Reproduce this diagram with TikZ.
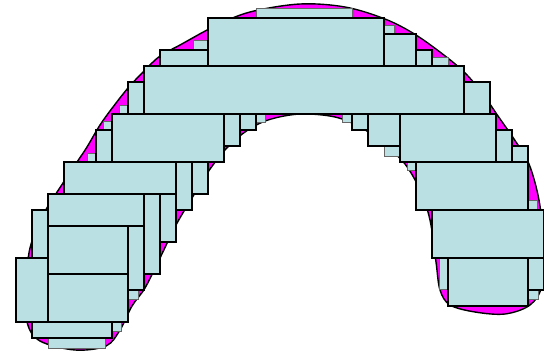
\documentclass[tikz,border=0pt]{standalone}
\usepackage{xcolor}
\usepackage{tikz}
\usetikzlibrary{backgrounds}
\definecolor{tilefill}{RGB}{187,224,227}
\definecolor{blobfill}{RGB}{255,0,255}
\tikzset{
    tile/.style={fill=tilefill, draw=black, line width=1.6pt},
    chip/.style={fill=tilefill, draw=black!60, line width=0.9pt},
    region/.style={fill=blobfill, draw=black, line width=1.4pt}
}

\begin{document}
\begin{tikzpicture}[x=1pt, y=-1pt]
    \useasboundingbox (0,0) rectangle (544,351);
    % the arch
    \draw[region] plot[smooth cycle, tension=0.55] coordinates {
        (40,341) (27,322) (26,285) (30,248) (43,215) (63,183) (77,162)
        (87,147) (100,125) (113,107) (128,88) (144,71) (160,56) (180,45)
        (215,26) (250,12) (300,4) (345,7) (385,19) (416,35) (449,59)
        (468,76) (485,97) (498,116) (514,139) (529,164) (539,200)
        (543,240) (542,285) (530,305) (505,314) (475,312) (450,305)
        (440,290) (436,262) (430,220) (420,190) (405,164) (385,145)
        (362,128) (335,117) (300,114) (268,120) (245,132) (225,150)
        (208,172) (192,198) (176,225) (160,258) (145,288) (132,306)
        (120,330) (106,346) (75,350)};
    % small pieces at the rim
    \draw[chip] (256,8) rectangle (352,18);
    \draw[chip] (384,25) rectangle (394,34);
    \draw[chip] (432,57) rectangle (448,66);
    \draw[chip] (193,40) rectangle (208,50);
    \draw[chip] (119,105) rectangle (128,114);
    \draw[chip] (103,121) rectangle (112,130);
    \draw[chip] (87,153) rectangle (96,162);
    \draw[chip] (256,114) rectangle (265,122);
    \draw[chip] (342,114) rectangle (352,122);
    \draw[chip] (384,146) rectangle (400,156);
    \draw[chip] (407,162) rectangle (416,170);
    \draw[chip] (528,200) rectangle (537,210);
    \draw[chip] (528,290) rectangle (538,299);
    \draw[chip] (439,258) rectangle (448,289);
    \draw[chip] (112,322) rectangle (121,331);
    \draw[chip] (128,290) rectangle (138,299);
    \draw[chip] (48,338) rectangle (105,348);
    % top rows
    \draw[tile] (208,18) rectangle (384,66);
    \draw[tile] (384,34) rectangle (416,66);
    \draw[tile] (416,50) rectangle (432,66);
    \draw[tile] (160,50) rectangle (208,66);
    \draw[tile] (144,66) rectangle (464,114);
    \draw[tile] (128,82) rectangle (144,114);
    \draw[tile] (464,82) rectangle (490,114);
    \draw[tile] (112,114) rectangle (224,162);
    \draw[tile] (224,114) rectangle (240,146);
    \draw[tile] (240,114) rectangle (256,130);
    \draw[tile] (96,130) rectangle (112,162);
    \draw[tile] (352,114) rectangle (368,130);
    \draw[tile] (368,114) rectangle (400,146);
    \draw[tile] (400,114) rectangle (496,162);
    \draw[tile] (496,130) rectangle (512,162);
    \draw[tile] (512,146) rectangle (528,162);
    % left leg
    \draw[tile] (192,162) rectangle (208,194);
    \draw[tile] (176,162) rectangle (192,210);
    \draw[tile] (160,194) rectangle (176,242);
    \draw[tile] (144,194) rectangle (160,274);
    \draw[tile] (128,226) rectangle (144,290);
    \draw[tile] (32,210) rectangle (48,258);
    \draw[tile] (64,162) rectangle (176,194);
    \draw[tile] (48,194) rectangle (144,226);
    \draw[tile] (48,226) rectangle (128,274);
    \draw[tile] (48,274) rectangle (128,322);
    \draw[tile] (16,258) rectangle (48,322);
    \draw[tile] (32,322) rectangle (112,338);
    % right leg
    \draw[tile] (416,162) rectangle (528,210);
    \draw[tile] (432,210) rectangle (544,258);
    \draw[tile] (528,258) rectangle (544,290);
    \draw[tile] (448,258) rectangle (528,306);
\end{tikzpicture}
\end{document}
